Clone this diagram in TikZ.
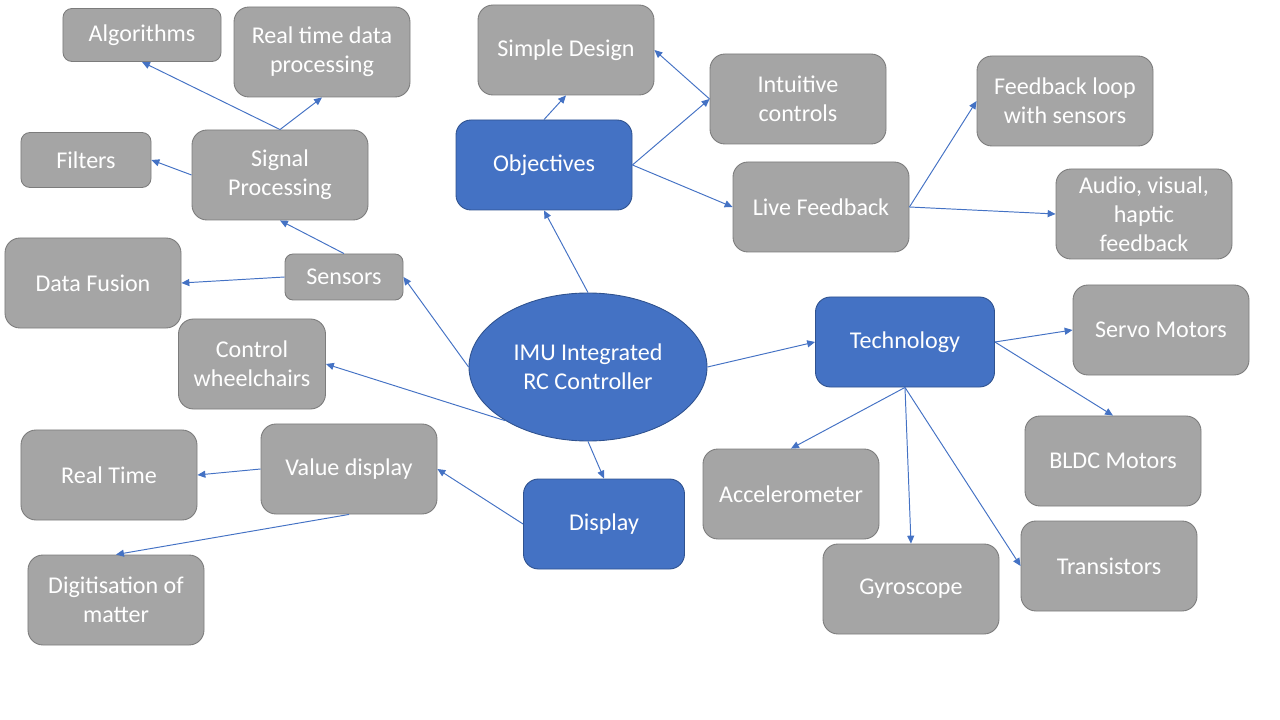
\documentclass[tikz,border=0pt]{standalone}
\usepackage{fontspec}
\setmainfont{Carlito}
\usepackage{tikz}
\usetikzlibrary{arrows.meta, shapes.geometric}
\definecolor{boxgray}{HTML}{A5A5A5}
\definecolor{boxedge}{HTML}{7C7C7C}
\definecolor{mainblue}{HTML}{4472C4}
\definecolor{blueedge}{HTML}{2F528F}

\begin{document}
\begin{tikzpicture}[x=0.2mm,y=-0.2mm,
    every node/.style={text=white, font=\fontsize{13.7}{16.4}\selectfont, align=center},
    leaf/.style={draw=boxedge, fill=boxgray, line width=0.5pt, rounded corners=3mm,
      minimum width=3.52cm, minimum height=1.8cm},
    topic/.style={leaf, draw=blueedge, fill=mainblue},
    link/.style={draw=mainblue, line width=0.55pt, -{Triangle[length=4.5pt,width=4pt]}}]
    \useasboundingbox (0,0) rectangle (1280,720);
    % centre
    \node[ellipse, draw=blueedge, fill=mainblue, line width=0.5pt, inner sep=0pt,
      minimum width=4.76cm, minimum height=2.96cm] (imu) at (588,367) {IMU Integrated\\RC Controller};
    % main topics
    \node[topic] (obj) at (544,165) {Objectives};
    \node[topic, minimum width=3.58cm] (tech) at (905,342) {Technology};
    \node[topic, minimum width=3.22cm] (disp) at (604,524) {Display};
    \node[leaf, minimum width=2.36cm, minimum height=0.92cm, rounded corners=1.6mm] (sens) at (344,277) {Sensors};
    \node[leaf, minimum width=2.94cm] (wheel) at (252,364) {Control\\wheelchairs};
    % objectives
    \node[leaf] (simple) at (566,50) {Simple Design};
    \node[leaf] (intuit) at (798,99) {Intuitive\\controls};
    \node[leaf] (live) at (821,207) {Live Feedback};
    \node[leaf] (loop) at (1065,101) {Feedback loop\\with sensors};
    \node[leaf] (avh) at (1144,214) {Audio, visual,\\haptic\\feedback};
    % sensors
    \node[leaf] (sig) at (280,175) {Signal\\Processing};
    \node[leaf] (fusion) at (93,283) {Data Fusion};
    \node[leaf, minimum width=2.6cm, minimum height=1.1cm, rounded corners=1.8mm] (filt) at (86,160) {Filters};
    \node[leaf, minimum width=3.16cm, minimum height=1.06cm, rounded corners=1.8mm] (algo) at (142,35) {Algorithms};
    \node[leaf] (rtdp) at (322,52) {Real time data\\processing};
    % display
    \node[leaf] (val) at (349,469) {Value display};
    \node[leaf] (rtime) at (109,475) {Real Time};
    \node[leaf] (digit) at (116,600) {Digitisation of\\matter};
    % technology
    \node[leaf] (servo) at (1161,330) {Servo Motors};
    \node[leaf] (bldc) at (1113,461) {BLDC Motors};
    \node[leaf] (accel) at (791,494) {Accelerometer};
    \node[leaf] (gyro) at (911,589) {Gyroscope};
    \node[leaf] (trans) at (1109,566) {Transistors};
    % from the centre
    \draw[link] (imu.north) -- (obj.south);
    \draw[link] (imu.east) -- (tech.west);
    \draw[link] (imu.south) -- (disp.north);
    \draw[link] (imu.west) -- (sens.east);
    \draw[link] (imu.213) -- (wheel.east);
    % objectives
    \draw[link] (obj.north) -- (simple.south);
    \draw[link] (obj.east) -- (intuit.west);
    \draw[link] (intuit.west) -- (simple.east);
    \draw[link] (obj.east) -- (live.west);
    \draw[link] (live.east) -- (loop.west);
    \draw[link] (live.east) -- (avh.west);
    % sensors
    \draw[link] (sens.west) -- (fusion.east);
    \draw[link] (sens.north) -- (sig.south);
    \draw[link] (sig.west) -- (filt.east);
    \draw[link] (sig.north) -- (algo.south);
    \draw[link] (sig.north) -- (rtdp.south);
    % display
    \draw[link] (disp.west) -- (val.east);
    \draw[link] (val.west) -- (rtime.east);
    \draw[link] (val.south) -- (digit.north);
    % technology
    \draw[link] (tech.east) -- (servo.west);
    \draw[link] (tech.east) -- (bldc.north);
    \draw[link] (tech.south) -- (accel.north);
    \draw[link] (tech.south) -- (gyro.north);
    \draw[link] (tech.south) -- (trans.west);
\end{tikzpicture}
\end{document}
